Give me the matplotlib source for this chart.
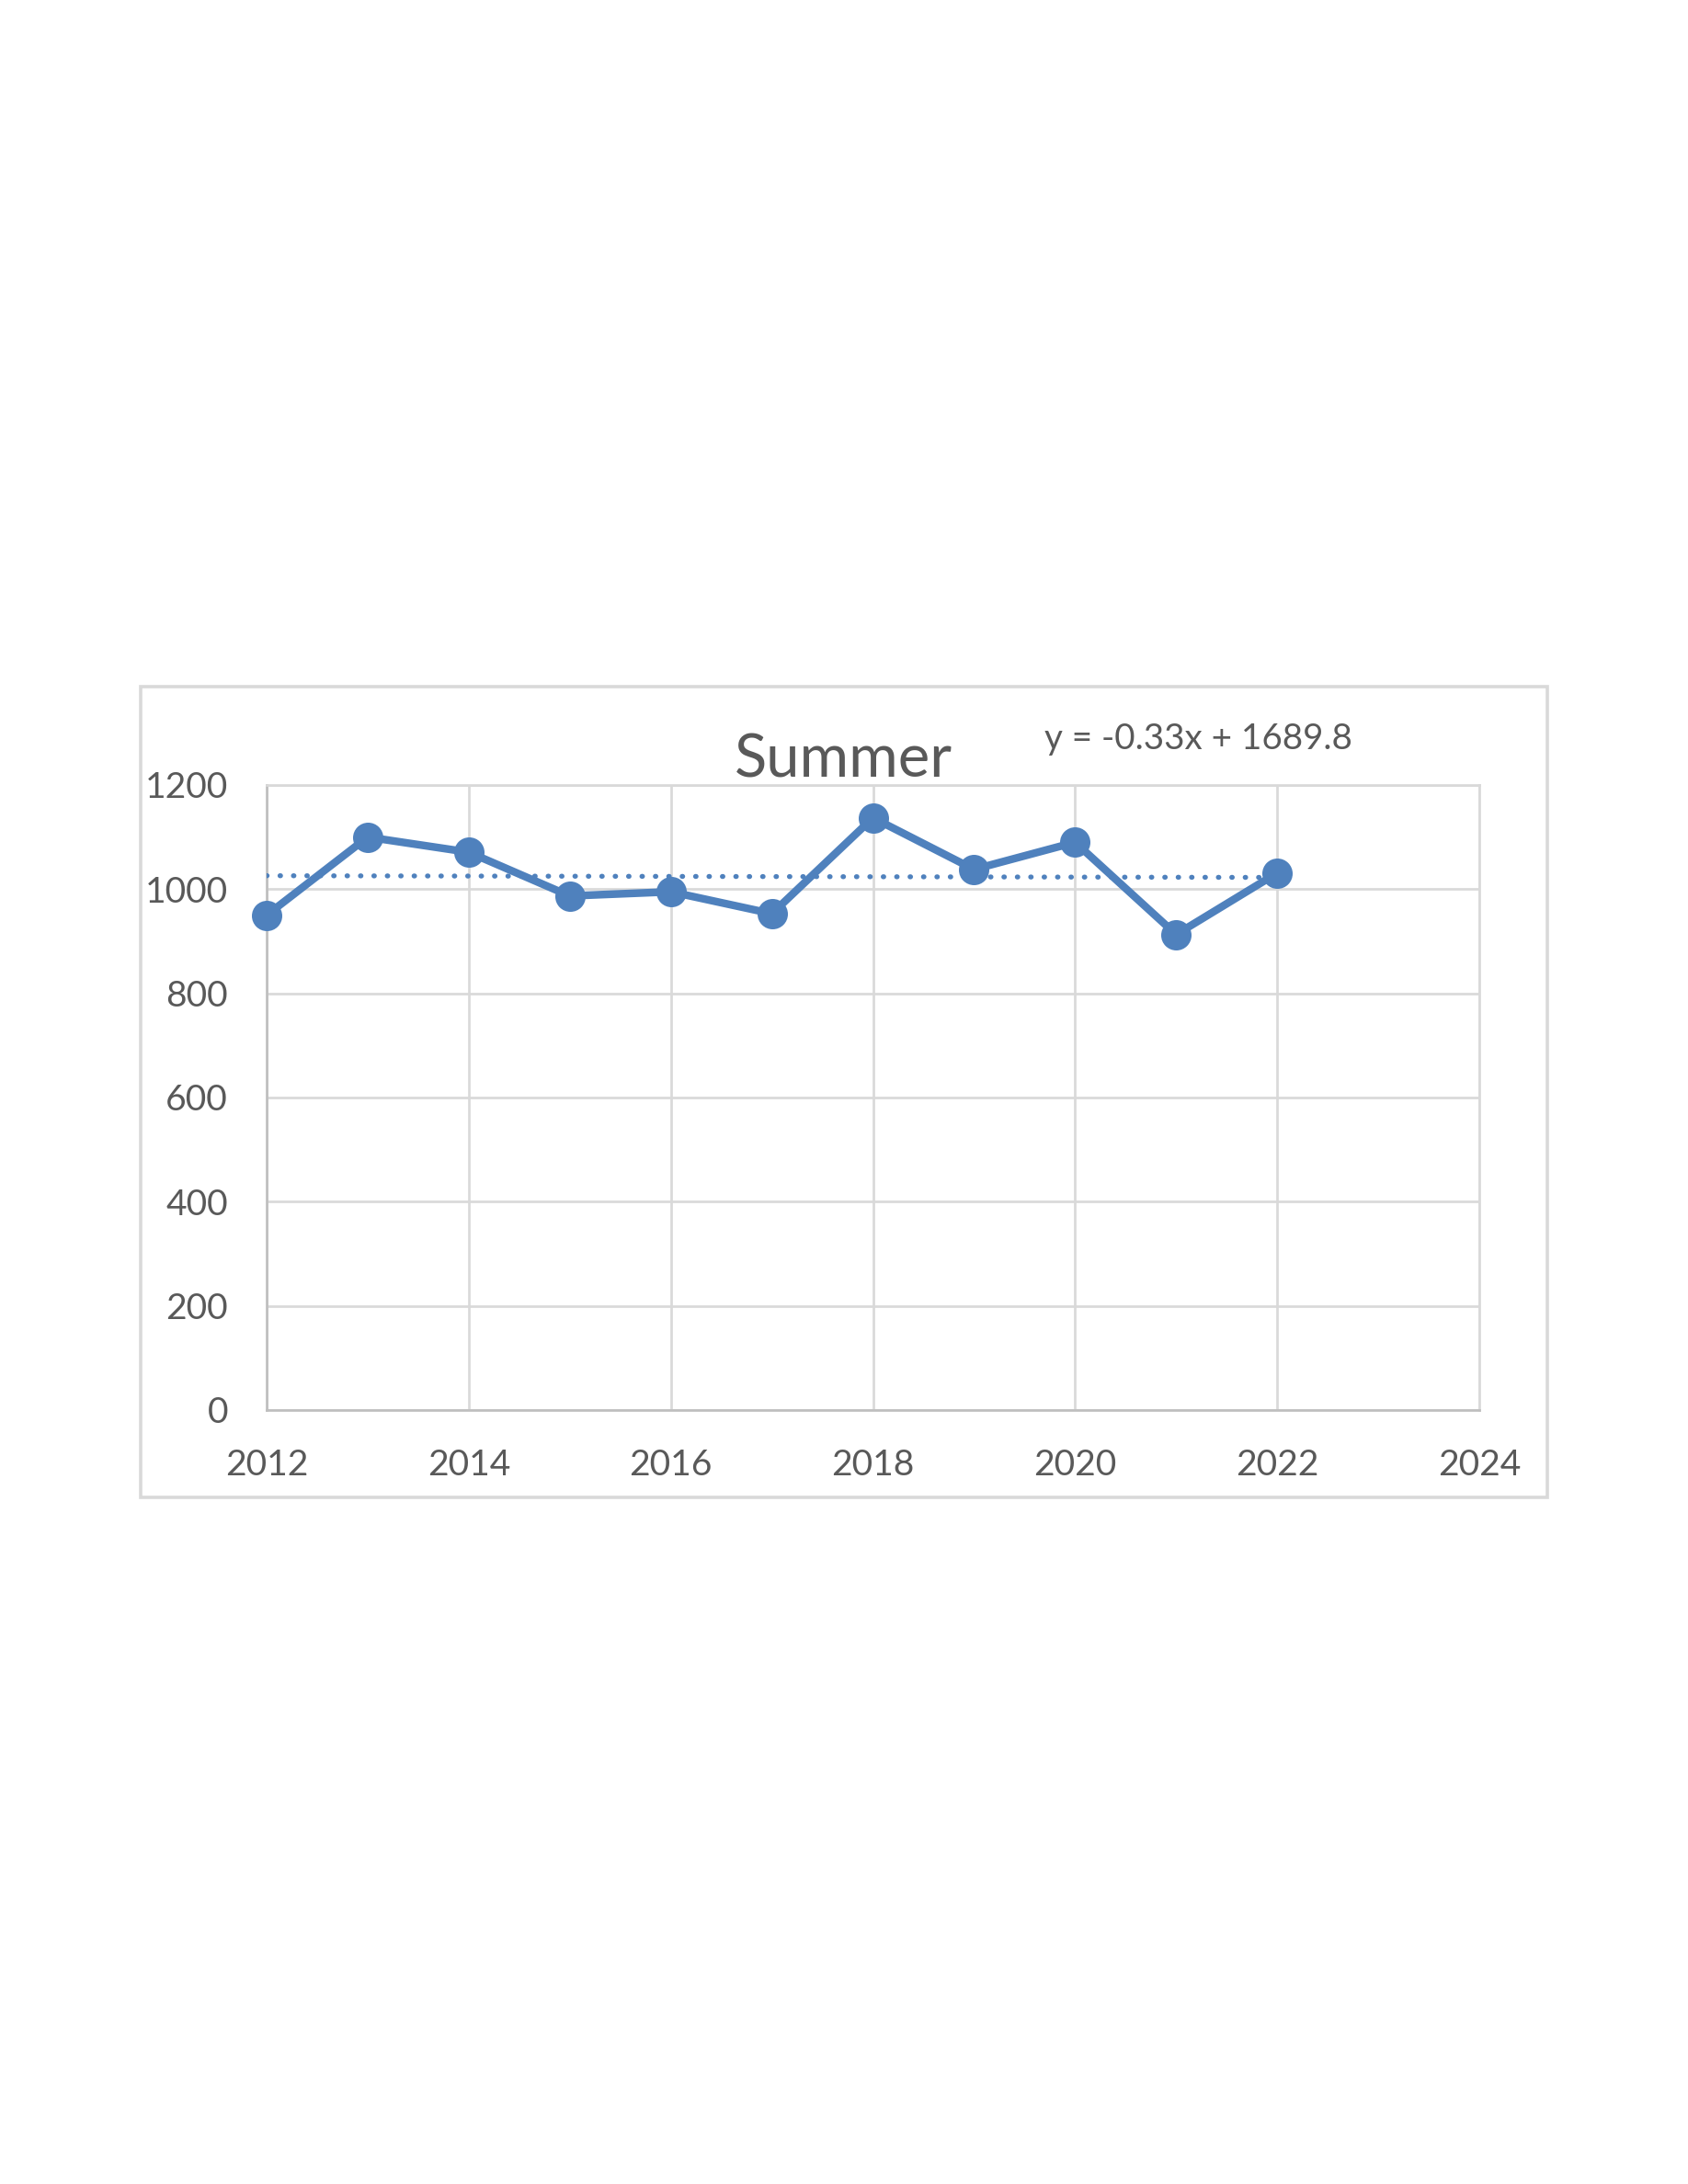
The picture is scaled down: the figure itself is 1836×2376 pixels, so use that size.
import matplotlib.pyplot as plt
from matplotlib.patches import Rectangle
import numpy as np

# Data
years = [2012, 2013, 2014, 2015, 2016, 2017, 2018, 2019, 2020, 2021, 2022]
summer = [950, 1100, 1071, 987, 995, 953, 1137, 1038, 1090, 913, 1031]
slope, intercept = -0.33, 1689.8
x_ticks = [2012, 2014, 2016, 2018, 2020, 2022, 2024]
y_ticks = [0, 200, 400, 600, 800, 1000, 1200]

blue = "#4F81BD"
text_grey = "#595959"
grid_grey = "#D9D9D9"

plt.rcParams["font.family"] = ["Lato", "DejaVu Sans"]

fig = plt.figure(figsize=(8.5, 11), dpi=216)

# Chart border
W, H = 1836, 2376
fig.patches.append(Rectangle((153 / W, 1 - 1629 / H), (1683 - 153) / W, (1629 - 747) / H,
                             transform=fig.transFigure, fill=False,
                             edgecolor=grid_grey, linewidth=1.2))

ax = fig.add_axes([290 / W, 1 - 1534 / H, (1609 - 290) / W, (1534 - 854) / H])

# Trendline (dotted)
trend_x = np.array([years[0], years[-1]])
ax.plot(trend_x, slope * trend_x + intercept, color=blue, linewidth=1.8,
        linestyle=(0, (0.1, 2.6)), dash_capstyle="round", zorder=3)

# Series
ax.plot(years, summer, color=blue, linewidth=2.8, marker="o", markersize=10,
        zorder=4, clip_on=False)

ax.set_xlim(2012, 2024)
ax.set_ylim(0, 1200)
ax.set_xticks(x_ticks)
ax.set_yticks(y_ticks)
ax.grid(True, color=grid_grey, linewidth=0.9)
ax.set_axisbelow(True)
ax.tick_params(length=0, labelsize=13, colors=text_grey, pad=14)
for side in ["top", "right"]:
    ax.spines[side].set_color(grid_grey)
    ax.spines[side].set_linewidth(0.9)
for side in ["left", "bottom"]:
    ax.spines[side].set_color("#BFBFBF")
    ax.spines[side].set_linewidth(0.9)

fig.text(917 / W, 1 - 827 / H, "Summer", ha="center", va="center",
         fontsize=21.7, color=text_grey)
fig.text(1303 / W, 1 - 804 / H, "y = -0.33x + 1689.8", ha="center", va="center",
         fontsize=12.9, color=text_grey)

fig.savefig("out.png", dpi=216)
